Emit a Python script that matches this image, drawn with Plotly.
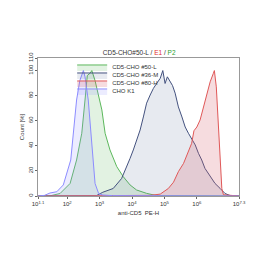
import plotly.graph_objects as go

# Data (log10 of PE-H, Count %)
green_x = [1.1, 1.5, 1.78, 2.09, 2.29, 2.45, 2.55, 2.62, 2.71, 2.76, 2.86, 2.96, 3.07, 3.17, 3.32, 3.53, 3.73, 3.94, 4.14, 4.45, 4.76, 7.3]
green_y = [0, 0.3, 2, 10, 28.7, 50, 76.5, 96, 98, 100, 92, 82, 68.6, 50, 36.7, 23.4, 15.4, 8.8, 4.8, 2.1, 0.3, 0]

navy_x = [1.1, 2.9, 3.1, 3.42, 3.68, 3.84, 3.94, 4.04, 4.15, 4.25, 4.35, 4.45, 4.56, 4.66, 4.76, 4.87, 4.95, 5.02, 5.09, 5.17, 5.25, 5.33, 5.43, 5.54, 5.64, 5.74, 5.84, 5.95, 6.05, 6.15, 6.25, 6.41, 6.56, 6.72, 6.87, 7.03, 7.3]
navy_y = [0, 0.3, 3, 6, 14, 23, 30, 36.7, 44.6, 52.6, 63, 74, 80.5, 85.8, 89.7, 93.8, 100, 89.7, 95, 92, 88, 82, 71, 63, 55, 50, 46, 40.7, 34, 28.7, 22, 15.4, 10, 6, 2, 0.3, 0]

red_x = [1.1, 4.56, 4.87, 5.12, 5.28, 5.43, 5.59, 5.74, 5.84, 5.91, 6.0, 6.1, 6.2, 6.31, 6.41, 6.51, 6.54, 6.6, 6.66, 6.72, 6.77, 6.82, 7.3]
red_y = [0, 0.5, 1.5, 6, 11, 19.4, 26, 35.3, 42, 52, 55, 60.6, 71, 82, 91, 97.8, 100, 87, 55, 28.7, 6, 1, 0]

blue_x = [1.1, 1.3, 1.47, 1.68, 1.88, 1.99, 2.11, 2.29, 2.39, 2.5, 2.55, 2.65, 2.76, 2.86, 2.97, 3.1, 3.4, 7.3]
blue_y = [0, 0.5, 2.4, 3.4, 8.8, 18, 28.7, 76.5, 92, 100, 95, 76.5, 39, 10, 2, 0.8, 0.3, 0]

x_tickvals = [10**1.1, 1e2, 1e3, 1e4, 1e5, 1e6, 10**7.3]
x_ticktext = ["10<sup>1.1</sup>", "10<sup>2</sup>", "10<sup>3</sup>", "10<sup>4</sup>",
              "10<sup>5</sup>", "10<sup>6</sup>", "10<sup>7.3</sup>"]
y_tickvals = [0, 20, 40, 60, 80, 100, 110]

FONT = "Liberation Sans, Arial, sans-serif"

series = [
    ("CD5-CHO #50-L", green_x, green_y, "#5cb85c", "rgba(92,184,92,0.18)"),
    ("CD5-CHO #36-M", navy_x, navy_y, "#44527f", "rgba(95,115,155,0.15)"),
    ("CD5-CHO #80-H", red_x, red_y, "#e05858", "rgba(215,95,110,0.22)"),
    ("CHO K1", blue_x, blue_y, "#8c8cff", "rgba(150,150,255,0.18)"),
]
legend_ids = ["legend", "legend2", "legend3", "legend4"]
legend_rows_y = [0.935, 0.877, 0.819, 0.761]

fig = go.Figure()
for (name, xs, ys, lc, fc), lid in zip(series, legend_ids):
    fig.add_trace(go.Scatter(
        x=[10**v for v in xs], y=ys, name=name, mode="lines",
        line=dict(color=lc, width=1), fill="tozeroy", fillcolor=fc,
        legend=lid,
    ))

legend_common = dict(x=0.17, xanchor="left", yanchor="middle",
                     bgcolor="rgba(0,0,0,0)",
                     font=dict(family=FONT, size=6, color="#333"),
                     itemwidth=30, borderwidth=0)

fig.update_layout(
    width=265, height=265,
    margin=dict(l=38, r=26, t=58, b=69),
    paper_bgcolor="white", plot_bgcolor="white",
    font=dict(family=FONT, size=6, color="#333"),
    title=dict(
        text="CD5-CHO#50-L / <span style='color:#e03030'>E1</span> / <span style='color:#30a030'>P2</span>",
        x=0.525, xanchor="center", y=1 - 53 / 265, yanchor="middle",
        font=dict(family=FONT, size=6.5, color="#333"),
    ),
    showlegend=True,
    xaxis=dict(
        type="log", range=[1.1, 7.3], tickvals=x_tickvals, ticktext=x_ticktext,
        showgrid=False, zeroline=False, showline=True, linecolor="#999",
        mirror=True, ticks="outside", ticklen=2, tickcolor="#666",
        tickfont=dict(family=FONT, size=6, color="#333"),
        title=dict(text="anti-CD5  PE-H", font=dict(family=FONT, size=6), standoff=4),
    ),
    yaxis=dict(
        range=[0, 110], tickvals=y_tickvals, showgrid=False, zeroline=False,
        showline=True, linecolor="#999", mirror=True, ticks="outside",
        ticklen=2, tickcolor="#666", tickangle=-90,
        tickfont=dict(family=FONT, size=6, color="#333"),
        title=dict(text="Count [%]", font=dict(family=FONT, size=6), standoff=2),
    ),
)
for lid, ly in zip(legend_ids, legend_rows_y):
    fig.update_layout({lid: dict(y=ly, **legend_common)})

fig.write_html("out.html")
